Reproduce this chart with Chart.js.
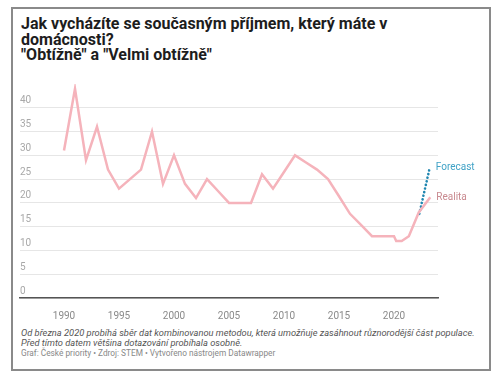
<!DOCTYPE html>
<html>
<head>
<meta charset="utf-8">
<script src="https://cdn.jsdelivr.net/npm/chart.js@4"></script>
<style>
  body { margin: 0; background: #fff; font-family: Roboto, "Noto Sans", sans-serif; }
  #frame { position: absolute; left: 11px; top: 7px; width: 476px; height: 360px; border: 2px solid #8a8a8a; }
  #title { position: absolute; left: 21px; top: 16px; font-size: 16px; font-weight: bold; line-height: 15.5px; color: #1d1d1d; }
  #wrap { position: absolute; left: 0; top: 70px; width: 500px; height: 250px; }
  #note { position: absolute; left: 21px; top: 327.5px; font-size: 9.3px; line-height: 10.8px; font-style: italic; color: #555; }
  #source { position: absolute; left: 21px; top: 347.5px; font-size: 8.3px; line-height: 11px; color: #888; }
</style>
</head>
<body>
<div id="frame"></div>
<div id="title">Jak vycházíte se současným příjmem, který máte v<br>domácnosti?<br>"Obtížně" a "Velmi obtížně"</div>
<div id="wrap"><canvas id="chart"></canvas></div>
<div id="note">Od března 2020 probíhá sběr dat kombinovanou metodou, která umožňuje zasáhnout různorodější část populace.<br>Před tímto datem většina dotazování probíhala osobně.</div>
<div id="source">Graf: České priority • Zdroj: STEM • Vytvořeno nástrojem Datawrapper</div>
<script>
// roky (u 2020+ jsou to půlroční body)
const realitaYears = [1990, 1991, 1992, 1993, 1994, 1995, 1996, 1997, 1998, 1999,
  2000, 2001, 2002, 2003, 2004, 2005, 2006, 2007, 2008, 2009,
  2010, 2011, 2012, 2013, 2014, 2015, 2016, 2017, 2018, 2019,
  2020, 2020.2, 2020.7, 2021.35, 2022.25, 2023.3];
const realitaValues = [31, 44, 29, 36, 27, 23, 25, 27, 35, 24,
  30, 24, 21, 25, 22.5, 20, 20, 20, 26, 23,
  26.5, 30, 28.5, 27, 25, 21.4, 17.7, 15.4, 13, 13,
  13, 12, 12, 13, 18, 21.2];

const forecastYears = [2022.3, 2023.25];
const forecastValues = [17.7, 27.4];

const seriesLabels = ['Realita', 'Forecast'];
const xTickYears = [1990, 1995, 2000, 2005, 2010, 2015, 2020];

const ctx = document.getElementById("chart");

const toPoints = (xs, ys) => xs.map((x, i) => ({ x: x, y: ys[i] }));

// popisky na konci čar
const endLabels = {
  id: 'endLabels',
  afterDatasetsDraw(chart) {
    const c = chart.ctx;
    c.save();
    c.font = '10px Roboto';
    c.textBaseline = 'middle';
    c.textAlign = 'left';
    chart.data.datasets.forEach((ds, i) => {
      const pts = chart.getDatasetMeta(i).data;
      const last = pts[pts.length - 1];
      c.fillStyle = ds.labelColor;
      c.fillText(ds.label, last.x + 6, last.y);
    });
    c.restore();
  }
};

const lineChart = new Chart(ctx, {
  type: 'line',
  data: {
    datasets: [{
      label: seriesLabels[0],
      data: toPoints(realitaYears, realitaValues),
      borderColor: '#f5b3bb',
      borderWidth: 2.5,
      pointRadius: 0,
      fill: false,
      tension: 0,
      labelColor: '#c98a90',
    }, {
      label: seriesLabels[1],
      data: toPoints(forecastYears, forecastValues),
      borderColor: '#1f86b0',
      borderWidth: 2.6,
      borderDash: [0.1, 3.6],
      borderCapStyle: 'round',
      pointRadius: 0,
      fill: false,
      labelColor: '#3fa2c6',
    }]
  },
  options: {
    responsive: true,
    maintainAspectRatio: false,
    animation: false,
    layout: {
      padding: { left: 20, right: 62, top: 11, bottom: 0 }
    },
    scales: {
      x: {
        type: 'linear',
        min: 1986,
        max: 2024,
        afterBuildTicks: scale => { scale.ticks = xTickYears.map(v => ({ value: v })); },
        afterFit: scale => { scale.height = 22; },
        grid: { display: false },
        border: { display: true, color: '#555', width: 1.5 },
        ticks: {
          padding: 4,
          color: '#8a8a8a',
          font: { size: 10, family: 'Roboto' },
          maxRotation: 0,
          callback: v => String(v)
        }
      },
      y: {
        min: 0,
        max: 45,
        afterBuildTicks: scale => { scale.ticks = scale.ticks.filter(t => t.value <= 40); },
        afterFit: scale => { scale.width = 0; },
        border: { display: false },
        grid: { color: '#e6e6e6', lineWidth: 1, drawTicks: false },
        ticks: {
          stepSize: 5,
          autoSkip: false,
          mirror: true,
          padding: 0,
          color: '#a8a8a8',
          font: { size: 10, family: 'Roboto', lineHeight: 1.4 },
          callback: v => [String(v), '']
        }
      }
    },
    plugins: {
      legend: { display: false },
      tooltip: { enabled: false }
    }
  },
  plugins: [endLabels]
});
</script>
</body>
</html>
